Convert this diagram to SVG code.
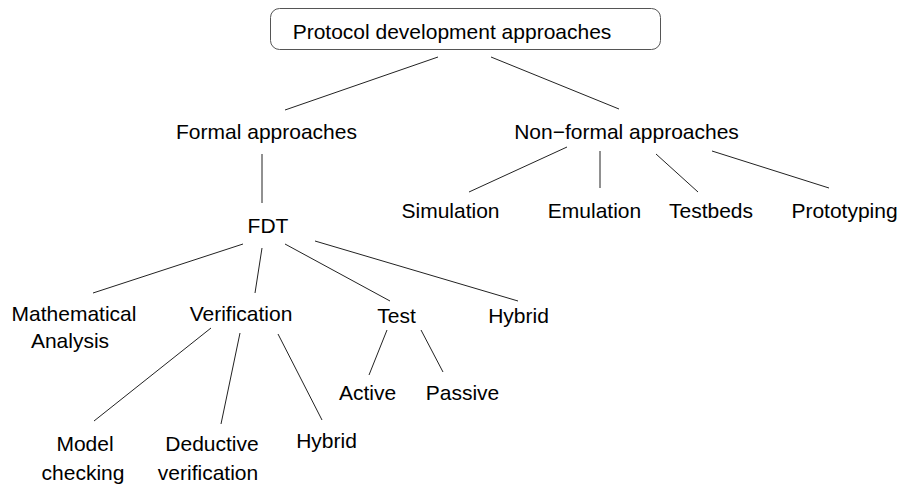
<svg xmlns="http://www.w3.org/2000/svg" width="899" height="485" viewBox="0 0 899 485">
<style>
text{font-family:"Liberation Sans",Arial,Helvetica,sans-serif;font-size:21px;fill:#000;text-anchor:middle}
.c line{stroke:#222;stroke-width:1;fill:none}
.box{fill:#fff;stroke:#555;stroke-width:1}
</style>
<rect width="899" height="485" fill="#fff"/>
<g class="c" id="connectors">
<line x1="438" y1="57" x2="285" y2="110"/>
<line x1="491" y1="57" x2="619" y2="109"/>
<line x1="262" y1="154" x2="262" y2="203"/>
<line x1="567" y1="147" x2="469" y2="192"/>
<line x1="600" y1="151" x2="600" y2="188"/>
<line x1="656" y1="154" x2="698" y2="192"/>
<line x1="712" y1="151" x2="829" y2="188"/>
<line x1="243" y1="244" x2="93" y2="293"/>
<line x1="262" y1="248" x2="255" y2="293"/>
<line x1="285" y1="244" x2="390" y2="301"/>
<line x1="315" y1="241" x2="518" y2="301"/>
<line x1="211" y1="328" x2="94" y2="421"/>
<line x1="240" y1="333" x2="221" y2="424"/>
<line x1="278" y1="334" x2="322" y2="420"/>
<line x1="387" y1="330" x2="369" y2="375"/>
<line x1="421" y1="330" x2="443" y2="372"/>
</g>
<g id="root"><rect class="box" x="270.5" y="8.5" width="390" height="41" rx="9"/><text x="452" y="39">Protocol development approaches</text></g>
<g id="formal"><text x="266.5" y="139">Formal approaches</text></g>
<g id="nonformal"><text x="626.5" y="139">Non−formal approaches</text></g>
<g id="fdt"><text x="268" y="233">FDT</text></g>
<g id="simulation"><text x="450.5" y="218">Simulation</text></g>
<g id="emulation"><text x="594.5" y="218">Emulation</text></g>
<g id="testbeds"><text x="711" y="218">Testbeds</text></g>
<g id="prototyping"><text x="844.5" y="218">Prototyping</text></g>
<g id="math"><text x="74" y="321">Mathematical</text><text x="70" y="348">Analysis</text></g>
<g id="verification"><text x="241" y="321">Verification</text></g>
<g id="test"><text x="396.5" y="323">Test</text></g>
<g id="hybrid1"><text x="518.5" y="323">Hybrid</text></g>
<g id="active"><text x="367.5" y="400">Active</text></g>
<g id="passive"><text x="462.5" y="400">Passive</text></g>
<g id="model"><text x="85" y="451">Model</text><text x="83" y="480">checking</text></g>
<g id="deductive"><text x="212" y="451">Deductive</text><text x="208" y="480">verification</text></g>
<g id="hybrid2"><text x="326.5" y="448">Hybrid</text></g>
</svg>
